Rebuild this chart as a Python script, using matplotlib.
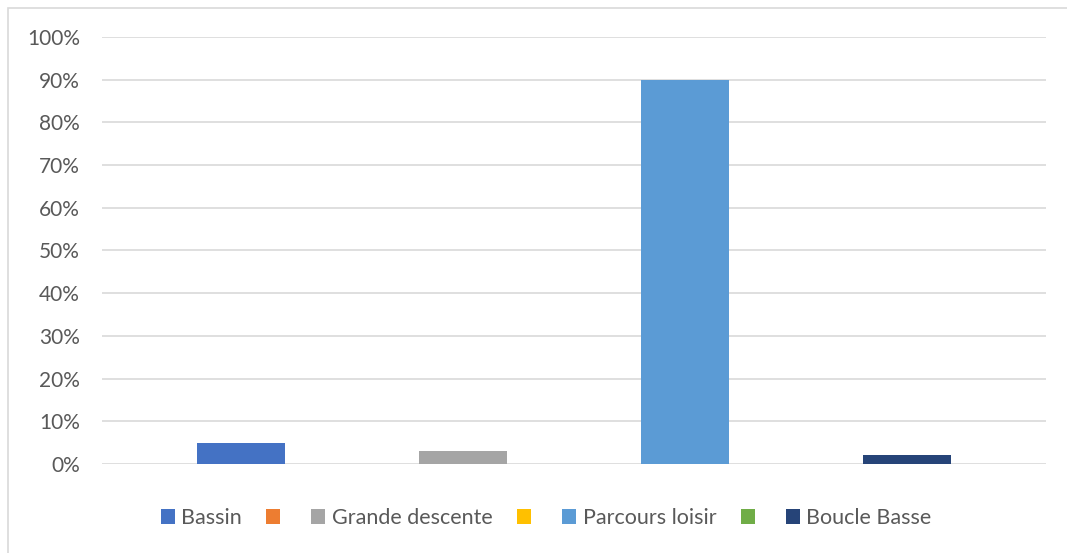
import matplotlib
matplotlib.use('Agg')
import matplotlib.pyplot as plt
from matplotlib.patches import Patch, Rectangle
from matplotlib.ticker import PercentFormatter

# series (one bar per series, empty names for the unnamed ones)
series = ["Bassin", "", "Grande descente", "", "Parcours loisir", "", "Boucle Basse"]
values = [5, 0, 3, 0, 90, 0, 2]
colors = ["#4472C4", "#ED7D31", "#A5A5A5", "#FFC000", "#5B9BD5", "#70AD47", "#264478"]
yticks = [0, 10, 20, 30, 40, 50, 60, 70, 80, 90, 100]

plt.rcParams['font.family'] = ['Lato', 'DejaVu Sans']
txt = "#595959"
grid = "#D9D9D9"

fig = plt.figure(figsize=(10.67, 5.53), dpi=100)
ax = fig.add_axes([102/1067, 1-464/553, 944/1067, 427/553])

xs = list(range(len(series)))
for x, v, c in zip(xs, values, colors):
    ax.bar(x, v, width=88/111, color=c, zorder=3)

ax.set_xlim(-139/111, 6 + 139/111)
ax.set_ylim(0, 100)
ax.set_yticks(yticks)
ax.yaxis.set_major_formatter(PercentFormatter(decimals=0))
ax.set_xticks([])
ax.tick_params(axis='y', length=0, pad=16, labelsize=15, labelcolor=txt)
ax.grid(axis='y', color=grid, linewidth=1.2, zorder=0)
for s in ax.spines.values():
    s.set_visible(False)

handles = [Patch(facecolor=c, edgecolor='none') for c in colors]
fig.legend(handles, series, loc='center', bbox_to_anchor=(546/1067, 1-518/553),
           ncol=7, frameon=False, fontsize=15.5, labelcolor=txt,
           handlelength=0.65, handleheight=0.65, handletextpad=0.3,
           columnspacing=1.14)

# chart outer border (only top and left visible in crop)
fig.patches.append(Rectangle((8/1067, -0.1), 1.2, 1-8/553+0.1, transform=fig.transFigure,
                             fill=False, edgecolor="#D9D9D9", linewidth=1.2))

fig.savefig("out.png", dpi=100)
